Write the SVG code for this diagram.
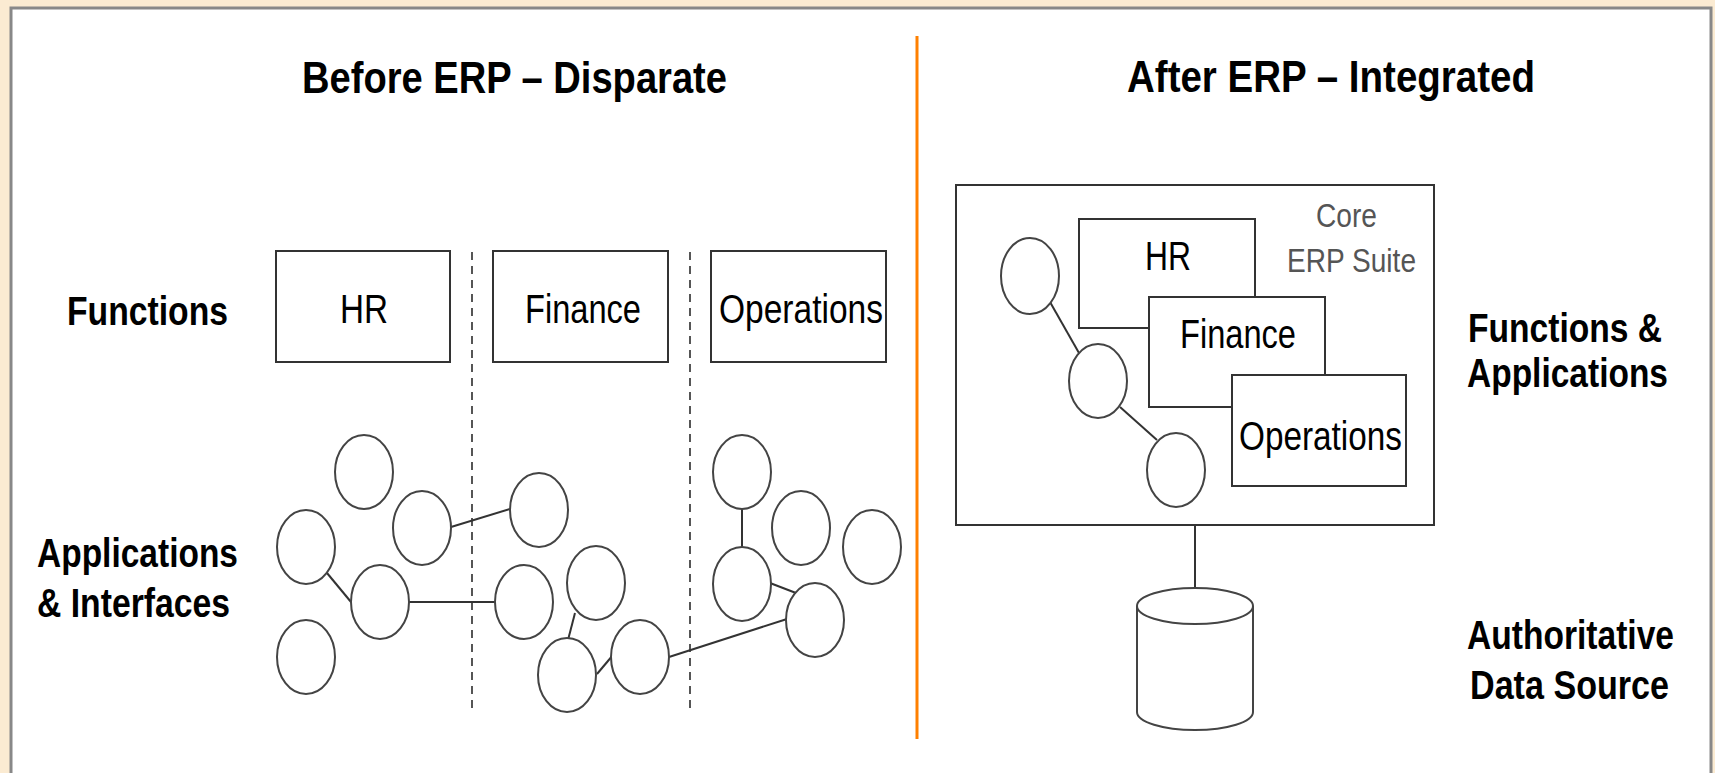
<svg xmlns="http://www.w3.org/2000/svg" width="1715" height="773" viewBox="0 0 1715 773">
<style>
.bg{fill:#FBEBD2}
.frame{fill:#fff;stroke:#888;stroke-width:3}
.box{fill:#fff;stroke:#333;stroke-width:2}
.app{fill:#fff;stroke:#444;stroke-width:2}
.con{stroke:#333;stroke-width:2;fill:none}
.dash{stroke:#444;stroke-width:1.8;stroke-dasharray:8 6;fill:none}
.t{font-family:"Liberation Sans",Arial,sans-serif;fill:#000}
.title{font-size:45px;font-weight:bold}
.lab{font-size:40px;font-weight:bold}
.reg{font-size:40px}
.core{font-size:33px;fill:#555}
</style>
<rect class="bg" x="0" y="0" width="1715" height="773"/>
<rect class="frame" x="11" y="8" width="1700" height="790"/>
<line x1="917" y1="36" x2="917" y2="739" stroke="#FF8000" stroke-width="3"/>

<g id="titles">
<text class="t title" x="302" y="93" textLength="425" lengthAdjust="spacingAndGlyphs">Before ERP – Disparate</text>
<text class="t title" x="1127" y="92" textLength="408" lengthAdjust="spacingAndGlyphs">After ERP – Integrated</text>
</g>

<g id="row-labels">
<text class="t lab" x="67" y="325" textLength="161" lengthAdjust="spacingAndGlyphs">Functions</text>
<text class="t lab" x="37" y="567" textLength="201" lengthAdjust="spacingAndGlyphs">Applications</text>
<text class="t lab" x="37" y="617" textLength="193" lengthAdjust="spacingAndGlyphs">&amp; Interfaces</text>
<text class="t lab" x="1468" y="342" textLength="194" lengthAdjust="spacingAndGlyphs">Functions &amp;</text>
<text class="t lab" x="1467" y="387" textLength="201" lengthAdjust="spacingAndGlyphs">Applications</text>
<text class="t lab" x="1467" y="649" textLength="207" lengthAdjust="spacingAndGlyphs">Authoritative</text>
<text class="t lab" x="1470" y="699" textLength="199" lengthAdjust="spacingAndGlyphs">Data Source</text>
</g>

<g id="separators">
<line class="dash" x1="472" y1="252" x2="472" y2="714"/>
<line class="dash" x1="690" y1="252" x2="690" y2="714"/>
</g>

<g id="before-hr">
<rect class="box" x="276" y="251" width="174" height="111"/>
<text class="t reg" x="340" y="323" textLength="48" lengthAdjust="spacingAndGlyphs">HR</text>
</g>
<g id="before-finance">
<rect class="box" x="493" y="251" width="175" height="111"/>
<text class="t reg" x="525" y="323" textLength="116" lengthAdjust="spacingAndGlyphs">Finance</text>
</g>
<g id="before-operations">
<rect class="box" x="711" y="251" width="175" height="111"/>
<text class="t reg" x="719" y="323" textLength="164" lengthAdjust="spacingAndGlyphs">Operations</text>
</g>

<g id="connectors">
<line class="con" x1="451" y1="527" x2="510" y2="509"/>
<line class="con" x1="327" y1="573" x2="351" y2="602"/>
<line class="con" x1="409" y1="602" x2="495" y2="602" stroke-width="3"/>
<line class="con" x1="575" y1="613" x2="568" y2="640"/>
<line class="con" x1="597" y1="674" x2="613" y2="655"/>
<line class="con" x1="669" y1="657" x2="787" y2="619"/>
<line class="con" x1="742" y1="509" x2="742" y2="547"/>
<line class="con" x1="770" y1="583" x2="796" y2="593"/>
<line class="con" x1="1050" y1="302" x2="1079" y2="353"/>
<line class="con" x1="1120" y1="407" x2="1157" y2="440"/>
<line class="con" x1="1195" y1="525" x2="1195" y2="588"/>
</g>

<g id="before-apps">
<ellipse class="app" cx="364" cy="472" rx="29" ry="37"/>
<ellipse class="app" cx="422" cy="528" rx="29" ry="37"/>
<ellipse class="app" cx="306" cy="547" rx="29" ry="37"/>
<ellipse class="app" cx="380" cy="602" rx="29" ry="37"/>
<ellipse class="app" cx="306" cy="657" rx="29" ry="37"/>
<ellipse class="app" cx="539" cy="510" rx="29" ry="37"/>
<ellipse class="app" cx="524" cy="602" rx="29" ry="37"/>
<ellipse class="app" cx="596" cy="583" rx="29" ry="37"/>
<ellipse class="app" cx="567" cy="675" rx="29" ry="37"/>
<ellipse class="app" cx="640" cy="657" rx="29" ry="37"/>
<ellipse class="app" cx="742" cy="472" rx="29" ry="37"/>
<ellipse class="app" cx="801" cy="528" rx="29" ry="37"/>
<ellipse class="app" cx="872" cy="547" rx="29" ry="37"/>
<ellipse class="app" cx="742" cy="584" rx="29" ry="37"/>
<ellipse class="app" cx="815" cy="620" rx="29" ry="37"/>
</g>

<g id="core-erp-suite">
<rect class="box" x="956" y="185" width="478" height="340" fill="none" style="fill:none"/>
<text class="t core" x="1316" y="227" textLength="61" lengthAdjust="spacingAndGlyphs">Core</text>
<text class="t core" x="1287" y="272" textLength="129" lengthAdjust="spacingAndGlyphs">ERP Suite</text>
</g>
<g id="after-hr">
<rect class="box" x="1079" y="219" width="176" height="109"/>
<text class="t reg" x="1145" y="270" textLength="46" lengthAdjust="spacingAndGlyphs">HR</text>
</g>
<g id="after-finance">
<rect class="box" x="1149" y="297" width="176" height="110"/>
<text class="t reg" x="1180" y="348" textLength="116" lengthAdjust="spacingAndGlyphs">Finance</text>
</g>
<g id="after-operations">
<rect class="box" x="1232" y="375" width="174" height="111"/>
<text class="t reg" x="1239" y="450" textLength="163" lengthAdjust="spacingAndGlyphs">Operations</text>
</g>
<g id="after-apps">
<ellipse class="app" cx="1030" cy="276" rx="29" ry="38"/>
<ellipse class="app" cx="1098" cy="381" rx="29" ry="37"/>
<ellipse class="app" cx="1176" cy="470" rx="29" ry="37"/>
</g>
<g id="data-source">
<path class="app" d="M1137,606 L1137,712 A58,18 0 0 0 1253,712 L1253,606"/>
<ellipse class="app" cx="1195" cy="606" rx="58" ry="18"/>
</g>
</svg>
